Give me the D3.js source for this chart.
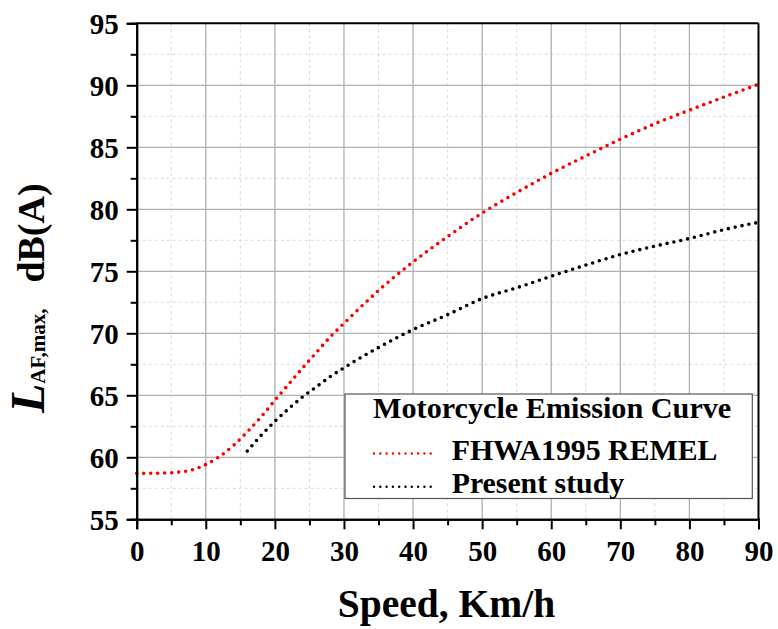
<!DOCTYPE html>
<html><head><meta charset="utf-8">
<script src="https://cdn.jsdelivr.net/npm/d3@7"></script>
<style>
body{margin:0;background:#fff}
text{font-family:"Liberation Serif","Times New Roman",serif;font-weight:bold;fill:#000}
</style>
</head><body>
<svg id="c" width="778" height="629"></svg>
<script>
// ---- data ----
const speedRemel = [0,2,4,6,8,10,12,14,16,18,20,22,24,26,28,30,35,40,45,50,55,60,65,70,75,80,85,90];
const levelRemel = [58.70,58.71,58.73,58.80,58.98,59.42,60.07,60.95,62.05,63.25,64.6,65.9,67.2,68.45,69.7,70.8,73.45,75.75,77.8,79.7,81.35,82.9,84.3,85.65,86.9,88.0,89.05,90.08];
const speedStudy = [16,18,20,22,24,26,28,30,35,40,45,50,55,60,65,70,75,80,85,90];
const levelStudy = [60.5,61.76,62.9,63.92,64.86,65.68,66.5,67.22,68.85,70.3,71.5,72.8,73.67,74.6,75.5,76.35,77.03,77.65,78.36,78.95];
const xTicks = [0,10,20,30,40,50,60,70,80,90];
const xMinor = [5,15,25,35,45,55,65,75,85];
const yTicks = [55,60,65,70,75,80,85,90,95];
const yMinor = [57.5,62.5,67.5,72.5,77.5,82.5,87.5,92.5];
const seriesNames = ["FHWA1995 REMEL","Present study"];
const seriesColors = ["#ff0000","#000000"];
const legendTitle = "Motorcycle Emission Curve";

const svg = d3.select("#c");
const L = 136.7, R = 758.5, T = 23.3, B = 519.3;
const x = d3.scaleLinear().domain([0,90]).range([L,R]);
const y = d3.scaleLinear().domain([55,95]).range([B,T]);

// grid
const g = svg.append("g");
g.selectAll(".xm").data(xMinor).join("line")
  .attr("x1",d=>x(d)).attr("x2",d=>x(d)).attr("y1",T).attr("y2",B)
  .attr("stroke","#d9d9d9").attr("stroke-width",1).attr("stroke-dasharray","3,3");
g.selectAll(".ym").data(yMinor).join("line")
  .attr("y1",d=>y(d)).attr("y2",d=>y(d)).attr("x1",L).attr("x2",R)
  .attr("stroke","#d9d9d9").attr("stroke-width",1).attr("stroke-dasharray","3,3");
g.selectAll(".xM").data(xTicks.slice(1,-1)).join("line")
  .attr("x1",d=>x(d)).attr("x2",d=>x(d)).attr("y1",T).attr("y2",B)
  .attr("stroke","#b0b0b0").attr("stroke-width",1.3);
g.selectAll(".yM").data(yTicks.slice(1,-1)).join("line")
  .attr("y1",d=>y(d)).attr("y2",d=>y(d)).attr("x1",L).attr("x2",R)
  .attr("stroke","#b0b0b0").attr("stroke-width",1.3);

// curves
const line = d3.line().x(d=>x(d[0])).y(d=>y(d[1])).curve(d3.curveMonotoneX);
const series = [d3.zip(speedRemel, levelRemel), d3.zip(speedStudy, levelStudy)];
svg.selectAll(".curve").data(series).join("path")
  .attr("d", line).attr("fill","none")
  .attr("stroke",(d,i)=>seriesColors[i]).attr("stroke-width",3.6)
  .attr("stroke-linecap","round").attr("stroke-dasharray","0,7");

// frame top/right
svg.append("line").attr("x1",L).attr("x2",R).attr("y1",T).attr("y2",T).attr("stroke","#000").attr("stroke-width",2);
svg.append("line").attr("x1",R).attr("x2",R).attr("y1",T).attr("y2",B).attr("stroke","#000").attr("stroke-width",2);

// axes
const xAxis = svg.append("g").attr("transform",`translate(0,${B})`)
  .call(d3.axisBottom(x).tickValues(xTicks).tickSize(10).tickPadding(12).tickFormat(d3.format("d")));
const xAxisMinor = svg.append("g").attr("transform",`translate(0,${B})`)
  .call(d3.axisBottom(x).tickValues(xMinor).tickSize(6).tickFormat(""));
const yAxis = svg.append("g").attr("transform",`translate(${L},0)`)
  .call(d3.axisLeft(y).tickValues(yTicks).tickSize(10).tickPadding(8).tickFormat(d3.format("d")));
const yAxisMinor = svg.append("g").attr("transform",`translate(${L},0)`)
  .call(d3.axisLeft(y).tickValues(yMinor).tickSize(6).tickFormat(""));
[xAxis,xAxisMinor,yAxis,yAxisMinor].forEach(a=>{
  a.select(".domain").attr("stroke","#000").attr("stroke-width",2);
  a.selectAll(".tick line").attr("stroke","#000").attr("stroke-width",2);
  a.selectAll("text").style("font-family",'"Liberation Serif",serif').style("font-weight","bold").style("font-size","29px").attr("fill","#000");
});
xAxis.selectAll("text").attr("dy","0.68em");
yAxis.selectAll("text").attr("dy","0.34em");

// axis titles
svg.append("text").attr("x",446.5).attr("y",616.5).attr("text-anchor","middle")
  .style("font-size","39.5px").text("Speed, Km/h");

const yt = svg.append("text").attr("transform","translate(44,413) rotate(-90)");
yt.append("tspan").style("font-size","48px").style("font-style","italic").text("L");
yt.append("tspan").style("font-size","21px").attr("dy","1").text("AF,max,");
yt.append("tspan").style("font-size","38px").attr("dy","-1").attr("dx","26").text("dB(A)");

// legend
const lg = svg.append("g");
lg.append("rect").attr("x",345).attr("y",394).attr("width",407.3).attr("height",104.5)
  .attr("fill","#fff").attr("stroke","#555").attr("stroke-width",1.2);
lg.append("text").attr("x",373).attr("y",417.5).style("font-size","30.2px").text(legendTitle);
const rows = lg.selectAll(".row").data(seriesNames).join("g")
  .attr("transform",(d,i)=>`translate(0,${i===0?459.5:492.8})`);
rows.append("line").attr("x1",374).attr("x2",437).attr("y1",-6).attr("y2",-6)
  .attr("stroke",(d,i)=>seriesColors[i]).attr("stroke-width",2.4)
  .attr("stroke-linecap","round").attr("stroke-dasharray","0,6.3");
rows.append("text").attr("x",451.7).attr("y",0).style("font-size","29.8px").text(d=>d);
</script>
</body></html>
